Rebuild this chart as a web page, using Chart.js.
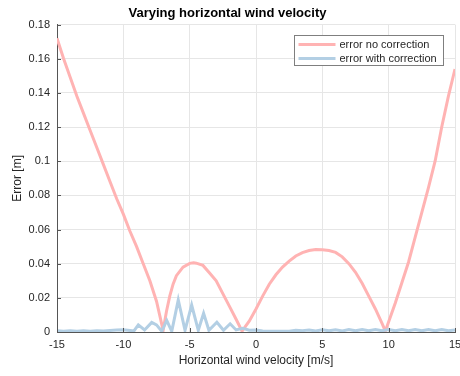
<!DOCTYPE html>
<html>
<head>
<meta charset="utf-8">
<script src="https://cdn.jsdelivr.net/npm/chart.js@4"></script>
<style>
  html, body { margin: 0; padding: 0; background: #fff; }
  #wrap { width: 460px; height: 376px; }
</style>
</head>
<body>
<div id="wrap"><canvas id="c" width="460" height="376"></canvas></div>
<script>
// ---- data ----
const titleText = "Varying horizontal wind velocity";
const xLabel = "Horizontal wind velocity [m/s]";
const yLabel = "Error [m]";
const seriesNames = ["error no correction", "error with correction"];

const noCorrX = [-15, -14.5, -14, -13.5, -13, -12.5, -12, -11.5, -11, -10.5, -10, -9.5, -9, -8.5, -8, -7.5, -7,
  -6.75, -6.5, -6.25, -6, -5.5, -5, -4.7, -4.5, -4, -3.5, -3, -2.5, -2, -1.5, -1.05,
  -0.5, 0, 0.5, 1, 1.5, 2, 2.5, 3, 3.5, 4, 4.5, 5, 5.5, 6, 6.5, 7, 7.5, 8, 8.5, 9, 9.5, 9.75,
  10, 10.5, 11, 11.5, 12, 12.5, 13, 13.5, 14, 14.5, 15];
const noCorrY = [0.172, 0.160, 0.149, 0.138, 0.128, 0.118, 0.108, 0.098, 0.088, 0.078, 0.069, 0.059, 0.050, 0.040, 0.030, 0.018, 0.001,
  0.012, 0.021, 0.028, 0.033, 0.038, 0.0402, 0.0405, 0.0403, 0.039, 0.0345, 0.030, 0.0225, 0.015, 0.0075, 0.0005,
  0.0065, 0.0135, 0.021, 0.028, 0.0335, 0.038, 0.0415, 0.0445, 0.0465, 0.0477, 0.0483, 0.0482, 0.0477, 0.0466, 0.044, 0.040, 0.035, 0.0285, 0.021, 0.0135, 0.005, 0.0005,
  0.006, 0.017, 0.029, 0.041, 0.0555, 0.070, 0.0845, 0.100, 0.120, 0.138, 0.154];

const withCorrX = [-15, -14.5, -14, -13.5, -13, -12.5, -12, -11.5, -11, -10.5, -10, -9.5, -9.2, -8.87, -8.4, -7.86, -7.5, -7.1,
  -6.73, -6.35, -5.86, -5.35, -4.85, -4.35, -3.95, -3.55, -2.95, -2.45, -1.95, -1.5, -1, -0.5,
  0, 0.5, 1, 1.5, 2, 2.5, 3, 3.5, 4, 4.5, 5, 5.5, 6, 6.5, 7, 7.5, 8, 8.5, 9, 9.5, 10, 10.5, 11, 11.5, 12, 12.5, 13, 13.5, 14, 14.5, 15];
const withCorrY = [0.0008, 0.0005, 0.0007, 0.0004, 0.0007, 0.0005, 0.0008, 0.0006, 0.0009, 0.0011, 0.0013, 0.0009, 0.0006, 0.0042, 0.0012, 0.0056, 0.0042, 0.0004,
  0.0068, 0.0004, 0.0188, 0.001, 0.0158, 0.001, 0.011, 0.001, 0.0057, 0.001, 0.0048, 0.0012, 0.0022, 0.0010,
  0.0012, 0.0006, 0.0005, 0.0004, 0.0004, 0.0005, 0.0010, 0.0008, 0.0012, 0.0006, 0.0013, 0.0007, 0.0013, 0.0006, 0.0014, 0.0007, 0.0014, 0.0007, 0.0015, 0.0007, 0.0015, 0.0007, 0.0015, 0.0007, 0.0015, 0.0007, 0.0015, 0.0007, 0.0015, 0.0007, 0.0012];

const xMin = -15, xMax = 15, xStep = 5;
const yMin = 0, yMax = 0.18, yStep = 0.02;

const colors = ["#ffb3b3", "#b3cfe4"];
const FONT = "'Liberation Sans', Arial, Helvetica, sans-serif";

function pts(xs, ys) { return xs.map((x, i) => ({ x: x, y: ys[i] })); }

// MATLAB-style inward tick marks
const inwardTicks = {
  id: 'inwardTicks',
  afterDatasetsDraw(chart) {
    const { ctx, chartArea, scales } = chart;
    ctx.save();
    ctx.strokeStyle = '#555';
    ctx.lineWidth = 1;
    scales.x.ticks.forEach(t => {
      const px = Math.round(scales.x.getPixelForValue(t.value)) + 0.5;
      ctx.beginPath(); ctx.moveTo(px, chartArea.bottom); ctx.lineTo(px, chartArea.bottom - 4); ctx.stroke();
    });
    scales.y.ticks.forEach(t => {
      const py = Math.round(scales.y.getPixelForValue(t.value)) + 0.5;
      ctx.beginPath(); ctx.moveTo(chartArea.left, py); ctx.lineTo(chartArea.left + 4, py); ctx.stroke();
    });
    ctx.restore();
  }
};

// legend box inside the plot, top-right
const boxLegend = {
  id: 'boxLegend',
  afterDraw(chart) {
    const { ctx, chartArea } = chart;
    const w = 149, h = 30;
    const x0 = Math.round(chartArea.right - 12 - w) + 0.5;
    const y0 = Math.round(chartArea.top + 10) + 0.5;
    ctx.save();
    ctx.fillStyle = '#fff';
    ctx.fillRect(x0, y0, w, h);
    ctx.strokeStyle = '#7f7f7f';
    ctx.lineWidth = 1;
    ctx.strokeRect(x0, y0, w, h);
    ctx.font = "11px " + FONT;
    ctx.textBaseline = 'middle';
    ctx.fillStyle = '#262626';
    chart.data.datasets.forEach((ds, i) => {
      const yy = y0 + 9 + i * 14;
      ctx.strokeStyle = ds.borderColor;
      ctx.lineWidth = 3;
      ctx.beginPath(); ctx.moveTo(x0 + 4, yy); ctx.lineTo(x0 + 41, yy); ctx.stroke();
      ctx.fillText(ds.label, x0 + 45, yy);
    });
    ctx.restore();
  }
};

new Chart(document.getElementById('c'), {
  type: 'line',
  data: {
    datasets: [
      { label: seriesNames[0], data: pts(noCorrX, noCorrY), borderColor: colors[0], backgroundColor: colors[0],
        borderWidth: 3, pointRadius: 0, tension: 0, fill: false, order: 1 },
      { label: seriesNames[1], data: pts(withCorrX, withCorrY), borderColor: colors[1], backgroundColor: colors[1],
        borderWidth: 3, pointRadius: 0, tension: 0, fill: false, order: 0 }
    ]
  },
  options: {
    responsive: false,
    animation: false,
    layout: { padding: { left: 0, right: 5, top: 0, bottom: 0 } },
    plugins: {
      legend: { display: false },
      tooltip: { enabled: false },
      title: {
        display: true, text: titleText, color: '#000',
        font: { family: FONT, size: 13, weight: 'bold' },
        padding: { top: 6, bottom: 3 }
      }
    },
    scales: {
      x: {
        type: 'linear', min: xMin, max: xMax,
        ticks: { stepSize: xStep, color: '#262626', font: { family: FONT, size: 11 }, padding: 6, maxRotation: 0 },
        grid: { color: '#e6e6e6', drawTicks: false },
        border: { color: '#555', width: 1 },
        title: { display: true, text: xLabel, color: '#262626', font: { family: FONT, size: 12 }, padding: { top: 0, bottom: 8 } },
        afterFit(s) { s.height = 44; s.paddingLeft = 0; s.paddingRight = 0; }
      },
      y: {
        type: 'linear', min: yMin, max: yMax,
        ticks: { stepSize: yStep, color: '#262626', font: { family: FONT, size: 11 }, padding: 7,
          callback: v => String(+(+v).toFixed(2)) },
        grid: { color: '#e6e6e6', drawTicks: false },
        border: { color: '#555', width: 1 },
        title: { display: true, text: yLabel, color: '#262626', font: { family: FONT, size: 12 }, padding: { top: 10, bottom: 0 } },
        afterFit(s) { s.width = 57; s.paddingTop = 0; s.paddingBottom = 0; }
      }
    }
  },
  plugins: [inwardTicks, boxLegend]
});
</script>
</body>
</html>
